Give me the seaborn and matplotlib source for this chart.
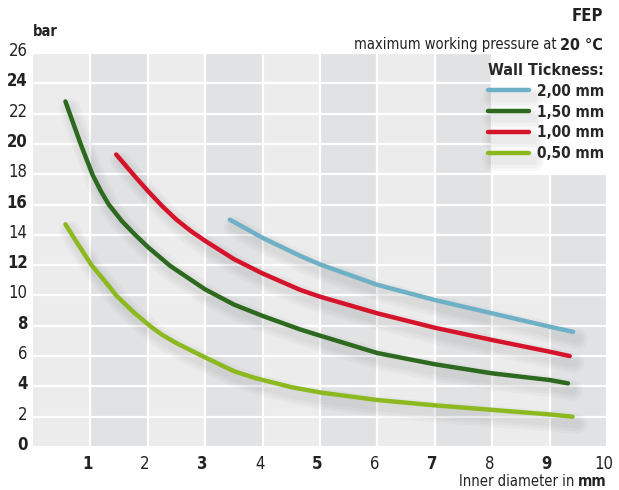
import matplotlib
matplotlib.use("Agg")
import matplotlib.pyplot as plt
import matplotlib.patheffects as pe
import matplotlib.transforms as mtransforms
from matplotlib import font_manager as fm
from matplotlib.patches import Rectangle
import pandas as pd
import seaborn as sns

# Datos (diametro interior en mm -> presion en bar)
x_050 = [0.565, 0.68, 1.02, 1.25, 1.45, 1.75, 2.05, 2.25, 2.5, 2.95, 3.5, 3.87, 4.5, 5.0, 6.0, 7.0, 8.0, 9.0, 9.4]
y_050 = [14.7, 14.0, 12.0, 10.95, 10.0, 8.9, 7.95, 7.4, 6.85, 6.0, 5.0, 4.55, 3.95, 3.6, 3.1, 2.75, 2.45, 2.15, 2.0]

x_150 = [0.565, 0.83, 1.04, 1.18, 1.32, 1.55, 1.78, 2.0, 2.39, 3.0, 3.5, 4.0, 4.66, 5.0, 6.0, 7.0, 8.0, 9.0, 9.32]
y_150 = [22.8, 20.0, 17.95, 16.9, 16.0, 14.9, 14.0, 13.2, 11.95, 10.4, 9.4, 8.65, 7.75, 7.35, 6.2, 5.46, 4.86, 4.42, 4.2]

x_100 = [1.45, 1.8, 2.0, 2.25, 2.5, 2.75, 3.0, 3.5, 4.0, 4.66, 5.0, 6.0, 7.0, 8.0, 9.0, 9.35]
y_100 = [19.3, 17.75, 16.9, 15.9, 15.0, 14.25, 13.6, 12.4, 11.45, 10.36, 9.92, 8.82, 7.87, 7.06, 6.29, 6.0]

x_200 = [3.43, 4.0, 4.66, 5.0, 6.0, 7.0, 8.0, 9.0, 9.41]
y_200 = [15.0, 13.8, 12.6, 12.05, 10.7, 9.7, 8.82, 7.94, 7.6]

series = ["2,00 mm", "1,50 mm", "1,00 mm", "0,50 mm"]
colores = ["#6eb0c6", "#2d6a1f", "#d5132b", "#8cb91f"]

x_ticks = list(range(1, 11))
y_ticks = list(range(0, 27, 2))

datos = pd.concat([
    pd.DataFrame({"d": x_200, "p": y_200, "pared": series[0]}),
    pd.DataFrame({"d": x_150, "p": y_150, "pared": series[1]}),
    pd.DataFrame({"d": x_100, "p": y_100, "pared": series[2]}),
    pd.DataFrame({"d": x_050, "p": y_050, "pared": series[3]}),
])

sns.set_style("white")

# Buscar la fuente mas estrecha disponible (el original usa una tipo DIN condensada)
orden = {"ultra-condensed": 0, "extra-condensed": 1, "condensed": 2, "semi-condensed": 3}
familia, estiramiento, mejor = "Roboto", "normal", 9
for f in fm.fontManager.ttflist:
    r = orden.get(f.stretch, 9)
    if r == 9 and ("Narrow" in f.name or "Condensed" in f.name):
        r = 4
    if r < mejor:
        familia, estiramiento, mejor = f.name, f.stretch, r
plt.rcParams["font.family"] = [familia, "DejaVu Sans"]
plt.rcParams["font.stretch"] = estiramiento

W, H = 619, 490
fig = plt.figure(figsize=(W / 100, H / 100), dpi=100)
ax = fig.add_axes([33 / W, (H - 447) / H, (607 - 33) / W, (447 - 53) / H])

# Fondo: columnas alternas
ax.set_facecolor("#ebeceb")
for i in range(1, 10, 2):
    ax.axvspan(i, i + 1, color="#e1e2e3", lw=0, zorder=0)

sombra = [pe.SimpleLineShadow(offset=(3, -5), shadow_color="#555555", alpha=0.04, linewidth=w)
          for w in (15, 11, 7)] + [pe.Normal()]

sns.lineplot(data=datos, x="d", y="p", hue="pared", hue_order=series,
             palette=colores, sort=False, estimator=None, lw=3.2, ax=ax, legend=True)
for ln in ax.lines:
    ln.set_solid_capstyle("round")
    ln.set_solid_joinstyle("round")
    ln.set_path_effects(sombra)
    ln.set_zorder(3)

ax.set_xlim(0, 10)
ax.set_ylim(0, 26)
ax.set_xticks(x_ticks)
ax.set_yticks(y_ticks)
ax.grid(True, color="white", lw=1.6, zorder=1)
ax.set_axisbelow(True)
for s in ax.spines.values():
    s.set_visible(False)
ax.tick_params(length=0)
ax.tick_params(axis="y", pad=4, labelsize=12, labelcolor="#222222")
ax.tick_params(axis="x", pad=6, labelsize=12, labelcolor="#222222")
ax.set_xlabel("")
ax.set_ylabel("")

for lab, v in zip(ax.get_yticklabels(), y_ticks):
    lab.set_fontweight("bold" if v % 4 == 0 else "normal")
    lab.set_transform(lab.get_transform() + mtransforms.ScaledTranslation(0, 4 / 100, fig.dpi_scale_trans))
for lab, v in zip(ax.get_xticklabels(), x_ticks):
    lab.set_fontweight("bold" if v % 2 == 1 else "normal")
    lab.set_transform(lab.get_transform() + mtransforms.ScaledTranslation(-3 / 100, 0, fig.dpi_scale_trans))

# Caja blanca de la leyenda
fig.patches.append(Rectangle((493 / W, (H - 173) / H), (W - 493) / W, (173 - 53) / H,
                             transform=fig.transFigure, facecolor="white", edgecolor="none", zorder=1))

handles, labels = ax.get_legend_handles_labels()
ax.get_legend().remove()
leg = fig.legend(handles, labels, loc="upper right", bbox_to_anchor=(604 / W, (H - 63) / H),
                 title="Wall Tickness:", frameon=False, alignment="left",
                 prop={"weight": "bold", "size": 11},
                 title_fontproperties={"weight": "bold", "size": 11.5},
                 handlelength=2.7, handletextpad=0.5, labelspacing=0.38, borderpad=0, borderaxespad=0)
for h in leg.legend_handles:
    h.set_linewidth(3.2)
    h.set_solid_capstyle("round")
leg.set_zorder(5)

# Textos
fig.text(603 / W, 1 - 16 / H, "FEP", ha="right", va="center", fontsize=12, fontweight="bold", color="#222222")
t20 = fig.text(603 / W, 1 - 45 / H, "20 °C", ha="right", va="center", fontsize=11.5, fontweight="bold", color="#222222")
ax.annotate("maximum working pressure at ", xy=(0, 0.5), xycoords=t20, ha="right", va="center",
            fontsize=10.5, color="#222222", annotation_clip=False)

fig.text(33 / W, 1 - 31 / H, "bar", ha="left", va="center", fontsize=10.5, fontweight="bold", color="#222222")

tmm = fig.text(607 / W, 1 - 481 / H, "mm", ha="right", va="center", fontsize=11, fontweight="bold", color="#222222")
ax.annotate("Inner diameter in ", xy=(0, 0.5), xycoords=tmm, ha="right", va="center",
            fontsize=10.5, color="#222222", annotation_clip=False)

fig.savefig("out.png", dpi=100)
plt.close(fig)
